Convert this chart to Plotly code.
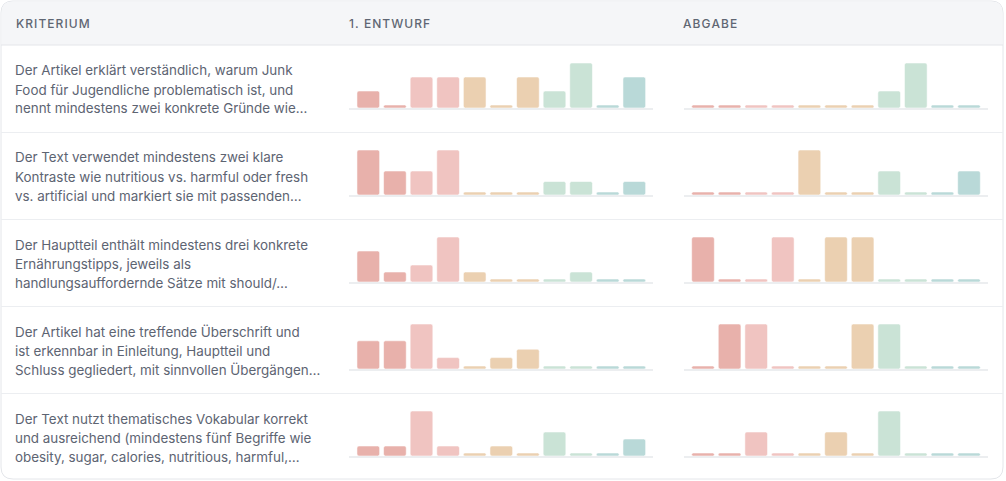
import plotly.graph_objects as go

# ---------------- data ----------------
criteria = [
    ["Der Artikel erklärt verständlich, warum Junk",
     "Food für Jugendliche problematisch ist, und",
     "nennt mindestens zwei konkrete Gründe wie…"],
    ["Der Text verwendet mindestens zwei klare",
     "Kontraste wie nutritious vs. harmful oder fresh",
     "vs. artificial und markiert sie mit passenden…"],
    ["Der Hauptteil enthält mindestens drei konkrete",
     "Ernährungstipps, jeweils als",
     "handlungsauffordernde Sätze mit should/…"],
    ["Der Artikel hat eine treffende Überschrift und",
     "ist erkennbar in Einleitung, Hauptteil und",
     "Schluss gegliedert, mit sinnvollen Übergängen…"],
    ["Der Text nutzt thematisches Vokabular korrekt",
     "und ausreichend (mindestens fünf Begriffe wie",
     "obesity, sugar, calories, nutritious, harmful,…"],
]
headers = ["KRITERIUM", "1. ENTWURF", "ABGABE"]
score_levels = list(range(11))
entwurf_1 = [1, 0, 2, 2, 2, 0, 2, 1, 3, 0, 2]
entwurf_2 = [4, 2, 2, 4, 0, 0, 0, 1, 1, 0, 1]
entwurf_3 = [4, 1, 2, 6, 1, 0, 0, 0, 1, 0, 0]
entwurf_4 = [3, 3, 5, 1, 0, 1, 2, 0, 0, 0, 0]
entwurf_5 = [1, 1, 6, 1, 0, 1, 0, 3, 0, 0, 2]
abgabe_1 = [0, 0, 0, 0, 0, 0, 0, 1, 3, 0, 0]
abgabe_2 = [0, 0, 0, 0, 2, 0, 0, 1, 0, 0, 1]
abgabe_3 = [1, 0, 0, 1, 0, 1, 1, 0, 0, 0, 0]
abgabe_4 = [0, 1, 1, 0, 0, 0, 1, 1, 0, 0, 0]
abgabe_5 = [0, 0, 1, 0, 0, 1, 0, 2, 0, 0, 0]
entwurf = [entwurf_1, entwurf_2, entwurf_3, entwurf_4, entwurf_5]
abgabe = [abgabe_1, abgabe_2, abgabe_3, abgabe_4, abgabe_5]

# ---------------- style ----------------
W, H = 1006, 481
FONT = "Inter"
TEXT_COLOR = "#5d6472"
HEAD_COLOR = "#5f6673"
level_colors = ["#e8b1ab", "#e8b1ab", "#f0c4c1", "#f0c4c1",
                "#ebd0b1", "#ebd0b1", "#ebd0b1",
                "#cae3d6", "#cae3d6", "#b9d9d8", "#b9d9d8"]

def fx(x):
    return x / W

def fy(y):
    return 1 - y / H

row_top0 = 45.5
row_h = 87.0
col_x = [(349.3, 653.3), (684.0, 988.0)]
stub_px = 3.0
bar_h_px = 45.0

fig = go.Figure()
layout_axes = {}

# card
card_l, card_t, card_r, card_b, rad = 1.0, 1.0, 1003.0, 479.0, 12.0
def rounded(l, t, r, b, rr, top_only=False):
    L, T, R, B = fx(l), fy(t), fx(r), fy(b)
    rx, ry = rr / W, rr / H
    if top_only:
        return (f"M {L},{B} L {L},{T-ry} Q {L},{T} {L+rx},{T} L {R-rx},{T} "
                f"Q {R},{T} {R},{T-ry} L {R},{B} Z")
    return (f"M {L+rx},{B} L {R-rx},{B} Q {R},{B} {R},{B+ry} L {R},{T-ry} "
            f"Q {R},{T} {R-rx},{T} L {L+rx},{T} Q {L},{T} {L},{T-ry} "
            f"L {L},{B+ry} Q {L},{B} {L+rx},{B} Z")

shapes = []
shapes.append(dict(type="path", xref="paper", yref="paper",
                   path=rounded(card_l, card_t, card_r, card_b, rad),
                   fillcolor="#ffffff", line=dict(color="#e4e6ea", width=1), layer="below"))
shapes.append(dict(type="path", xref="paper", yref="paper",
                   path=rounded(card_l + 0.5, card_t + 0.5, card_r - 0.5, 45.0, rad - 0.5, top_only=True),
                   fillcolor="#f5f6f8", line=dict(width=0), layer="below"))
shapes.append(dict(type="line", xref="paper", yref="paper",
                   x0=fx(card_l), x1=fx(card_r), y0=fy(45.0), y1=fy(45.0),
                   line=dict(color="#e4e6ea", width=1), layer="below"))
for i in range(1, 5):
    y = row_top0 + i * row_h
    shapes.append(dict(type="line", xref="paper", yref="paper",
                       x0=fx(card_l), x1=fx(card_r), y0=fy(y), y1=fy(y),
                       line=dict(color="#eceef1", width=1), layer="below"))

annotations = []
for txt, x in zip(headers, [13.5, 347.0, 681.0]):
    spaced = "\u200a".join(txt)
    annotations.append(dict(text=spaced, x=fx(x), y=fy(23.0), xref="paper", yref="paper",
                            xanchor="left", yanchor="middle", showarrow=False,
                            font=dict(family=FONT, size=12, color=HEAD_COLOR, weight=500)))

ax_i = 0
for r in range(5):
    center = row_top0 + r * row_h + row_h / 2
    for li, line in enumerate(criteria[r]):
        annotations.append(dict(text=line, x=fx(13.0), y=fy(center - 18.5 + li * 19.0),
                                xref="paper", yref="paper", xanchor="left", yanchor="middle",
                                showarrow=False,
                                font=dict(family=FONT, size=13.4, color=TEXT_COLOR)))
    base_px = center + 19.0
    top_px = base_px - bar_h_px
    for c, data in enumerate([entwurf[r], abgabe[r]]):
        ax_i += 1
        vmax = max(data)
        s = vmax * stub_px / (bar_h_px - stub_px)
        xa = "x" if ax_i == 1 else f"x{ax_i}"
        ya = "y" if ax_i == 1 else f"y{ax_i}"
        fig.add_trace(go.Bar(
            x=score_levels, y=[v + s for v in data], base=[-s] * len(data),
            marker=dict(color=level_colors, cornerradius=2,
                        line=dict(color="rgba(255,255,255,0.55)", width=1)),
            xaxis=xa, yaxis=ya, hoverinfo="skip", showlegend=False))
        x0, x1 = col_x[c]
        span_units = (x1 - x0) / 26.6
        pad = (span_units - 11) / 2
        layout_axes["xaxis" if ax_i == 1 else f"xaxis{ax_i}"] = dict(
            domain=[fx(x0), fx(x1)], range=[-0.5 - pad, 10.5 + pad],
            anchor=ya, showgrid=False, zeroline=False, showticklabels=False,
            ticks="", showline=True, linecolor="#eceef0", linewidth=2, fixedrange=True)
        layout_axes["yaxis" if ax_i == 1 else f"yaxis{ax_i}"] = dict(
            domain=[fy(base_px), fy(top_px)], range=[-s, vmax],
            anchor=xa, showgrid=False, zeroline=False, showticklabels=False,
            ticks="", showline=False, fixedrange=True)

fig.update_layout(
    width=W, height=H, margin=dict(l=0, r=0, t=0, b=0),
    paper_bgcolor="#ffffff", plot_bgcolor="rgba(0,0,0,0)",
    bargap=0.147, shapes=shapes, annotations=annotations,
    showlegend=False, **layout_axes)

fig.write_html("out.html", config={"displayModeBar": False})
